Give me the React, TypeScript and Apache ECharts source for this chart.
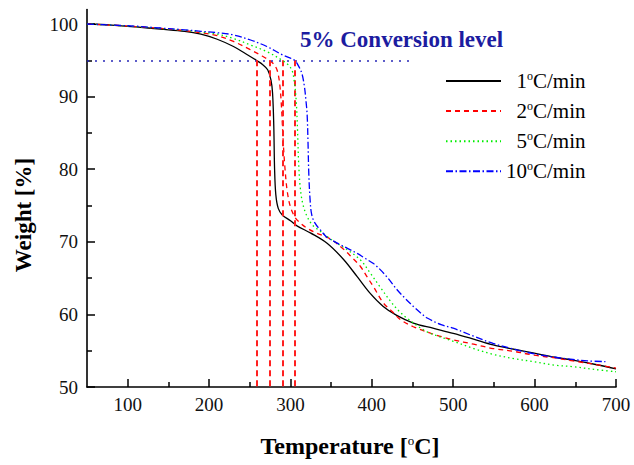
import React, { useEffect, useRef } from "react";
import * as echarts from "echarts";

const rates = [1, 2, 5, 10];
const colors = ["#000000", "#ff0000", "#00ee00", "#0000ff"];

const tga1: [number, number][] = [
  [50, 100], [80, 99.85], [110, 99.6], [140, 99.3], [170, 99.0], [190, 98.6], [210, 97.9], [230, 96.9],
  [245, 95.9], [258, 95.0], [266, 94.4], [272, 93.7], [276, 92.3], [278, 90.5], [279.5, 86], [280.5, 80],
  [282, 76.5], [285, 74.6], [290, 73.7], [300, 72.9], [308, 72.2], [325, 71.2], [345, 69.8], [365, 67.6],
  [382, 65.2], [398, 62.9], [414, 61.1], [430, 59.9], [451, 58.8], [475, 58.1], [500, 57.4], [525, 56.6],
  [549, 55.8], [575, 55.2], [598, 54.7], [625, 54.1], [647, 53.7], [675, 53.1], [700, 52.5],
];
const tga2: [number, number][] = [
  [50, 100], [80, 99.85], [110, 99.65], [140, 99.4], [170, 99.1], [190, 98.8], [210, 98.4], [230, 97.6],
  [250, 96.5], [265, 95.6], [274, 95.0], [280, 94.4], [284, 93.5], [287, 91.5], [289, 88.5], [291, 84],
  [293, 80.5], [296, 77], [300, 74.8], [306, 73.3], [312, 72.6], [320, 71.9], [330, 71.3], [349, 70.4],
  [365, 69.0], [375, 67.9], [386, 66.6], [394, 65.2], [402, 63.8], [414, 61.6], [425, 60.4], [435, 59.3],
  [451, 58.3], [475, 57.3], [500, 56.5], [525, 55.9], [549, 55.3], [575, 54.9], [598, 54.4], [625, 54.0],
  [647, 53.6], [675, 53.1], [700, 52.6],
];
const tga5: [number, number][] = [
  [50, 100], [80, 99.85], [110, 99.65], [140, 99.4], [170, 99.15], [190, 98.9], [210, 98.6], [230, 98.0],
  [251, 97.1], [271, 96.2], [290, 95.0], [297, 94.4], [302, 93.6], [305, 91.8], [307, 89.5], [308.5, 86],
  [310, 81], [312, 77.5], [315, 75.3], [320, 73.6], [327, 72.3], [335, 71.6], [349, 70.4], [360, 69.6],
  [370, 68.9], [386, 67.5], [398, 65.7], [410, 63.8], [423, 61.8], [433, 60.5], [443, 59.5], [468, 57.6],
  [500, 56.3], [525, 55.3], [549, 54.5], [575, 53.9], [598, 53.5], [625, 53.0], [647, 52.8], [675, 52.4],
  [700, 52.1],
];
const tga10: [number, number][] = [
  [50, 100], [80, 99.85], [110, 99.7], [140, 99.45], [170, 99.2], [190, 99.0], [210, 98.8], [230, 98.5],
  [251, 97.8], [271, 96.9], [291, 95.7], [305, 95.0], [310, 94.2], [314, 93.2], [317, 91.5], [319, 89.5],
  [320.5, 87.5], [321.5, 84], [322.5, 79.5], [324, 76], [326, 73.8], [330, 72.6], [337, 71.6], [345, 70.6],
  [353, 70.1], [361, 69.6], [370, 69.1], [382, 68.4], [392, 67.7], [402, 67.0], [410, 66.2], [419, 65.1],
  [431, 63.4], [441, 62.2], [451, 61.1], [460, 60.2], [468, 59.5], [485, 58.6], [500, 58.1], [525, 57.0],
  [549, 56.0], [575, 55.2], [598, 54.6], [625, 54.1], [647, 53.8], [665, 53.6], [687, 53.5],
];
const seriesData = [tga1, tga2, tga5, tga10];
const lineTypes: any[] = ["solid", [5, 4], [1.5, 3], [7, 2.5, 1.5, 2.5]];

const conversionLevel = 95;
const conversionTemps = [258, 274, 290, 305];
const conversionLineEnd = 450;

const xMajor = [100, 200, 300, 400, 500, 600, 700];
const xMinor = [150, 250, 350, 450, 550, 650];
const yMajor = [50, 60, 70, 80, 90, 100];
const yMinor = [55, 65, 75, 85, 95];

const FONT = "Liberation Serif";

export default function App() {
  const ref = useRef<HTMLDivElement>(null);
  useEffect(() => {
    if (!ref.current) return;
    const chart = echarts.init(ref.current, null, { renderer: "svg" });
    const names = rates.map((r) => `${r}°C/min`);
    const axisCommon = {
      type: "value",
      axisLine: { show: true, lineStyle: { color: "#000", width: 1.6 } },
      splitLine: { show: false },
    };
    const labelStyle = { fontFamily: FONT, fontSize: 19, color: "#111" };
    const option: any = {
      animation: false,
      backgroundColor: "#fff",
      textStyle: { fontFamily: FONT },
      grid: { left: 87, right: 18, top: 9.5, bottom: 78, containLabel: false, outerBoundsMode: "none" },
      xAxis: [
        {
          ...axisCommon,
          min: 50,
          max: 700,
          position: "bottom",
          axisTick: { show: true, inside: true, length: 8, customValues: xMajor, lineStyle: { color: "#000", width: 1.5 } },
          axisLabel: { customValues: xMajor, ...labelStyle, margin: 8 },
        },
        {
          ...axisCommon,
          min: 50,
          max: 700,
          position: "bottom",
          axisLine: { show: false },
          axisTick: { show: true, inside: true, length: 5, customValues: xMinor, lineStyle: { color: "#000", width: 1.5 } },
          axisLabel: { show: false },
        },
      ],
      yAxis: [
        {
          ...axisCommon,
          min: 50,
          max: 102,
          position: "left",
          axisTick: { show: true, inside: true, length: 8, customValues: yMajor, lineStyle: { color: "#000", width: 1.5 } },
          axisLabel: { customValues: yMajor, ...labelStyle, margin: 9 },
        },
        {
          ...axisCommon,
          min: 50,
          max: 102,
          position: "left",
          offset: 0,
          axisLine: { show: false },
          axisTick: { show: true, inside: true, length: 5, customValues: yMinor, lineStyle: { color: "#000", width: 1.5 } },
          axisLabel: { show: false },
        },
      ],
      legend: {
        left: 445,
        top: 70,
        padding: 0,
        orient: "vertical",
        itemWidth: 55,
        itemHeight: 14,
        itemGap: 8.6,
        itemStyle: { opacity: 0 },
        data: names,
        formatter: (name: string) => {
          const r = name.split("°")[0];
          return r.length === 1 ? `{p|${r}}{s|o}{t|C/min}` : `{n|${r}}{s|o}{t|C/min}`;
        },
        textStyle: {
          fontFamily: FONT,
          fontSize: 21,
          color: "#000",
          rich: {
            n: { fontFamily: FONT, fontSize: 21, lineHeight: 22, color: "#000" },
            p: { fontFamily: FONT, fontSize: 21, lineHeight: 22, color: "#000", padding: [0, 0, 0, 10.5] },
            s: { fontFamily: FONT, fontSize: 12, verticalAlign: "top", lineHeight: 12, color: "#000" },
            t: { fontFamily: FONT, fontSize: 21, lineHeight: 22, color: "#000" },
          },
        },
      },
      series: [
        ...seriesData.map((d, i) => ({
          name: names[i],
          type: "line",
          data: d,
          xAxisIndex: 0,
          yAxisIndex: 0,
          showSymbol: false,
          symbol: "none",
          smooth: 0.35,
          color: colors[i],
          lineStyle: { color: colors[i], width: 1.3, type: lineTypes[i] },
          z: 3 + i,
        })),
        {
          name: "conversion",
          type: "line",
          data: [],
          xAxisIndex: 0,
          yAxisIndex: 0,
          markLine: {
            silent: true,
            symbol: ["none", "none"],
            label: { show: false },
            animation: false,
            data: [
              [
                { coord: [50, conversionLevel], lineStyle: { color: "#2828b8", width: 1.6, type: [2, 6] } },
                { coord: [conversionLineEnd, conversionLevel] },
              ],
              ...conversionTemps.map((t) => [
                { coord: [t, conversionLevel], lineStyle: { color: "#ff2020", width: 2, type: [6, 4] } },
                { coord: [t, 50] },
              ]),
            ],
          },
          z: 2,
        },
      ],
      graphic: [
        {
          type: "text",
          left: 300,
          top: 28,
          style: {
            text: "5% Conversion level",
            font: `bold 23px "${FONT}"`,
            fill: "#1c1ca0",
          },
        },
        {
          type: "text",
          x: 350,
          y: 446,
          style: {
            text: "{b|Temperature [}{s|o}{b|C]}",
            textAlign: "center",
            textVerticalAlign: "middle",
            rich: {
              b: { fontFamily: FONT, fontWeight: "bold", fontSize: 24, lineHeight: 24, fill: "#000", color: "#000" },
              s: { fontFamily: FONT, fontWeight: "normal", fontSize: 13, lineHeight: 13, verticalAlign: "top", fill: "#000", color: "#000" },
            },
          },
        },
        {
          type: "text",
          x: 23,
          y: 215,
          rotation: Math.PI / 2,
          style: {
            text: "Weight [%]",
            font: `bold 23px "${FONT}"`,
            fill: "#000",
            textAlign: "center",
            textVerticalAlign: "middle",
          },
        },
      ],
    };
    chart.setOption(option);
    return () => chart.dispose();
  }, []);
  return (
    <div
      ref={ref}
      style={{ position: "fixed", left: 0, top: 0, width: 634, height: 465, background: "#fff" }}
    />
  );
}
